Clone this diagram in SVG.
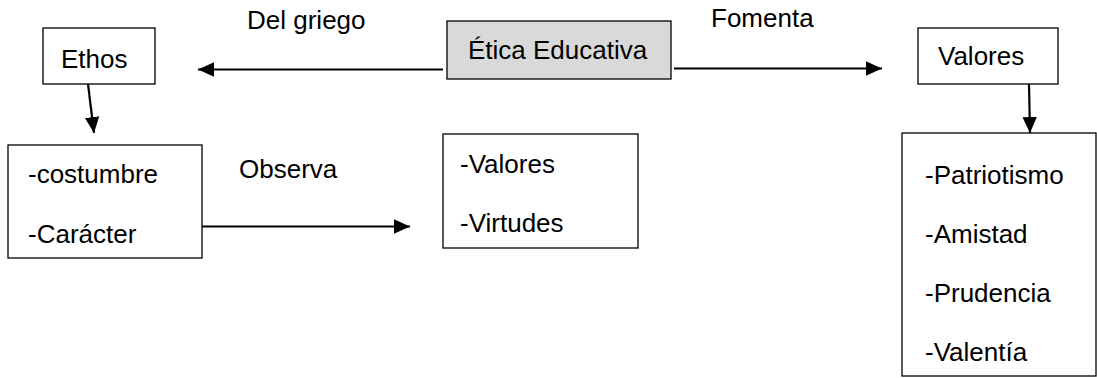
<svg xmlns="http://www.w3.org/2000/svg" width="1097" height="378" viewBox="0 0 1097 378">
<defs>
<style>
text{font-family:"Liberation Sans",Arial,sans-serif;font-size:26px;fill:#000}
.box{fill:#fff;stroke:#000;stroke-width:1.3}
.conn{stroke:#000;stroke-width:2.2;fill:none}
</style>
<marker id="ah" viewBox="0 0 10 10" refX="10" refY="5" markerUnits="userSpaceOnUse" markerWidth="16" markerHeight="16" orient="auto">
<path d="M0,0.5 L10,5 L0,9.5 Z" fill="#000"/>
</marker>
</defs>
<rect width="1097" height="378" fill="#fff"/>
<g id="connectors">
<line class="conn" x1="443" y1="69.5" x2="198" y2="69.5" marker-end="url(#ah)"/>
<line class="conn" x1="674" y1="68.5" x2="882" y2="68.5" marker-end="url(#ah)"/>
<line class="conn" x1="88" y1="84" x2="94" y2="133" marker-end="url(#ah)"/>
<line class="conn" x1="1029" y1="84" x2="1030" y2="133" marker-end="url(#ah)"/>
<line class="conn" x1="202" y1="226.5" x2="410" y2="226.5" marker-end="url(#ah)"/>
<text x="247" y="29">Del griego</text>
<text x="711" y="27">Fomenta</text>
<text x="239" y="178">Observa</text>
</g>
<g id="etica">
<rect x="447" y="21" width="224" height="58" fill="#d9d9d9" stroke="#000" stroke-width="1.3"/>
<text x="468" y="59">Ética Educativa</text>
</g>
<g id="ethos">
<rect class="box" x="43" y="28" width="112" height="56"/>
<text x="61" y="68">Ethos</text>
</g>
<g id="valores">
<rect class="box" x="918" y="28" width="140" height="56" stroke-width="2.2"/>
<text x="938" y="65">Valores</text>
</g>
<g id="costumbre">
<rect class="box" x="8" y="145" width="194" height="113"/>
<text x="28" y="183">-costumbre</text>
<text x="28" y="243">-Carácter</text>
</g>
<g id="virtudes">
<rect class="box" x="443" y="134" width="195" height="114"/>
<text x="460" y="173">-Valores</text>
<text x="460" y="232">-Virtudes</text>
</g>
<g id="lista-valores">
<rect class="box" x="902" y="133" width="194" height="243"/>
<text x="925" y="184">-Patriotismo</text>
<text x="925" y="243">-Amistad</text>
<text x="925" y="302">-Prudencia</text>
<text x="925" y="361">-Valentía</text>
</g>
</svg>
